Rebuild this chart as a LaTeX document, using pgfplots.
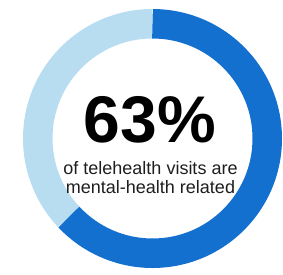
\documentclass[border=0pt]{standalone}
\usepackage{pgfplots}
\usepackage{pgfplotstable}
\pgfplotsset{compat=1.18}
\usepackage{fontspec}
\setmainfont{Liberation Sans}
\definecolor{darkblue}{HTML}{1470CE}
\definecolor{lightblue}{HTML}{B8DDF1}
\definecolor{txt}{HTML}{1E1E1E}
\pgfplotstableread{
label value
mental 63
other 37
}\donutdata
\begin{document}
\begin{tikzpicture}
\pgfplotstablegetelem{0}{value}\of\donutdata
\pgfmathsetmacro\va{\pgfplotsretval}
\pgfmathsetmacro\angA{90-3.6*\va}
\begin{axis}[
  x=1pt, y=1pt,
  xmin=0, xmax=283, ymin=0, ymax=274,
  hide axis, clip=false,
]
\path (axis cs:0,0) rectangle (axis cs:283,274);
% light segment (other): from end of dark going clockwise back to top
\draw[lightblue, line width=29.5pt] (axis cs:152.5,135.5) ++(90:114.75) arc[start angle=90, end angle={\angA+360}, radius=114.75pt];
\draw[darkblue, line width=29.5pt] (axis cs:152.5,135.5) ++(90:114.75) arc[start angle=90, end angle=\angA, radius=114.75pt];
\node[anchor=base, inner sep=0pt, text=black, font=\fontsize{66}{70}\selectfont\bfseries] at (axis cs:150,132) {63\%};
\node[anchor=base, inner sep=0pt, text=txt, font=\fontsize{18}{20}\selectfont] at (axis cs:150.5,100) {of telehealth visits are};
\node[anchor=base, inner sep=0pt, text=txt, font=\fontsize{18}{20}\selectfont] at (axis cs:150.5,81) {mental-health related};
\end{axis}
\end{tikzpicture}
\end{document}
